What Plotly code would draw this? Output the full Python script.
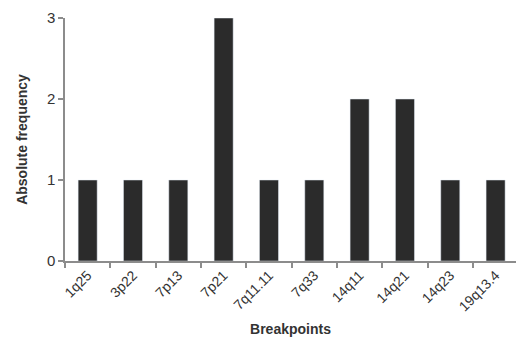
import plotly.graph_objects as go

categories = ["1q25", "3p22", "7p13", "7p21", "7q11.11", "7q33", "14q11", "14q21", "14q23", "19q13.4"]
frequency = [1, 1, 1, 3, 1, 1, 2, 2, 1, 1]
y_ticks = [0, 1, 2, 3]

fig = go.Figure(go.Bar(x=categories, y=frequency, marker_color="#2b2b2b", width=0.42))

axis_color = "#8c8c8c"
fig.update_layout(
    width=516, height=337,
    margin=dict(l=65, r=0, t=18, b=76, autoexpand=False),
    plot_bgcolor="white", paper_bgcolor="white",
    font=dict(family="Liberation Sans, Arial, sans-serif", color="#333333"),
    showlegend=False,
)
fig.update_xaxes(
    range=[-0.5, 9.45],
    showline=True, linecolor=axis_color, linewidth=1.5,
    ticks="outside", tickson="boundaries", ticklen=5, tickcolor=axis_color, tickwidth=1.5,
    tickangle=-45, tickfont=dict(size=14, color="#333333"), ticklabelstandoff=-1,
    title=dict(text="<b>Breakpoints</b>", font=dict(size=14, color="#333333"), standoff=14),
    showgrid=False, automargin=False,
)
fig.update_yaxes(
    range=[0, 3], tickvals=y_ticks,
    showline=True, linecolor=axis_color, linewidth=1.5,
    ticks="outside", ticklen=5, tickcolor=axis_color, tickwidth=1.5,
    tickfont=dict(size=15, color="#333333"),
    title=dict(text="<b>Absolute frequency</b>", font=dict(size=14, color="#333333"), standoff=16),
    showgrid=False, zeroline=False, automargin=False,
)

fig.write_html("out.html", config={"displayModeBar": False},
               post_script="document.body.style.margin='0px';")
